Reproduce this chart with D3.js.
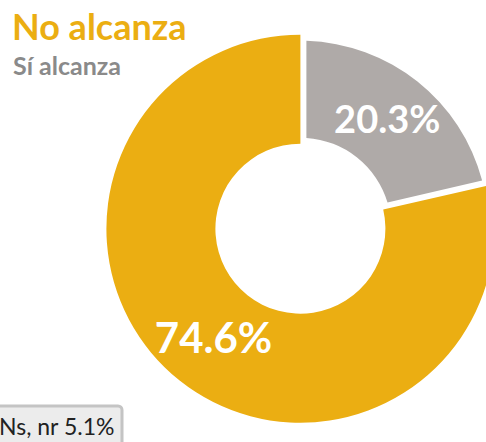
<!DOCTYPE html>
<html>
<head>
<meta charset="utf-8">
<script src="https://cdn.jsdelivr.net/npm/d3@7"></script>
<style>
  body { margin: 0; background: #fff; }
  svg { display: block; font-family: Lato, "Open Sans", sans-serif; }
</style>
</head>
<body>
<div id="chart"></div>
<script>
// data
const categories = ['Sí alcanza', 'No alcanza'];
const values = [20.3, 74.6];
const otherLabel = 'Ns, nr';
const otherValue = 5.1;
const colors = ['#afaaa8', '#ebae12'];

const width = 486;
const height = 442;
const cx = 300.4;
const cy = 228.7;
const outerR = 194;
const innerR = 85;

const svg = d3.select('#chart')
  .append('svg')
  .attr('width', width)
  .attr('height', height);

const g = svg.append('g')
  .attr('transform', `translate(${cx},${cy})`);

const pie = d3.pie().sort(null).value(d => d);
const arcs = pie(values);

// yellow full size, gray inset by a white gap
const arcMain = d3.arc().innerRadius(innerR).outerRadius(outerR);
const arcInset = d3.arc().innerRadius(innerR + 6).outerRadius(outerR - 6)
  .padRadius(outerR - 6).padAngle(12 / (outerR - 6));
const labelArc = d3.arc().innerRadius(91).outerRadius(188);

g.selectAll('path')
  .data(arcs)
  .enter()
  .append('path')
  .attr('d', (d, i) => i === 0 ? arcInset(d) : arcMain(d))
  .attr('fill', (d, i) => colors[i]);

const fmt = v => v.toFixed(1) + '%';
const labelSizes = [38, 42];

g.selectAll('text.lbl')
  .data(arcs)
  .enter()
  .append('text')
  .attr('class', 'lbl')
  .attr('transform', d => `translate(${labelArc.centroid(d)})`)
  .attr('text-anchor', 'middle')
  .attr('dy', '0.36em')
  .attr('fill', '#fff')
  .attr('font-weight', 'bold')
  .attr('font-size', (d, i) => labelSizes[i])
  .text(d => fmt(d.data));

// legend, top-left
svg.append('text')
  .attr('x', 12)
  .attr('y', 40)
  .attr('fill', colors[1])
  .attr('font-weight', 'bold')
  .attr('font-size', 36)
  .text(categories[1]);

svg.append('text')
  .attr('x', 13)
  .attr('y', 75)
  .attr('fill', '#8a8a8a')
  .attr('font-weight', 'bold')
  .attr('font-size', 25)
  .text(categories[0]);

// "no answer" box bottom-left
svg.append('rect')
  .attr('x', -6)
  .attr('y', 406)
  .attr('width', 128)
  .attr('height', 44)
  .attr('rx', 4)
  .attr('fill', '#ececec')
  .attr('stroke', '#c4c4c4')
  .attr('stroke-width', 3);

svg.append('text')
  .attr('x', -1)
  .attr('y', 435)
  .attr('fill', '#222')
  .attr('font-size', 23)
  .text(`${otherLabel} ${fmt(otherValue)}`);
</script>
</body>
</html>
